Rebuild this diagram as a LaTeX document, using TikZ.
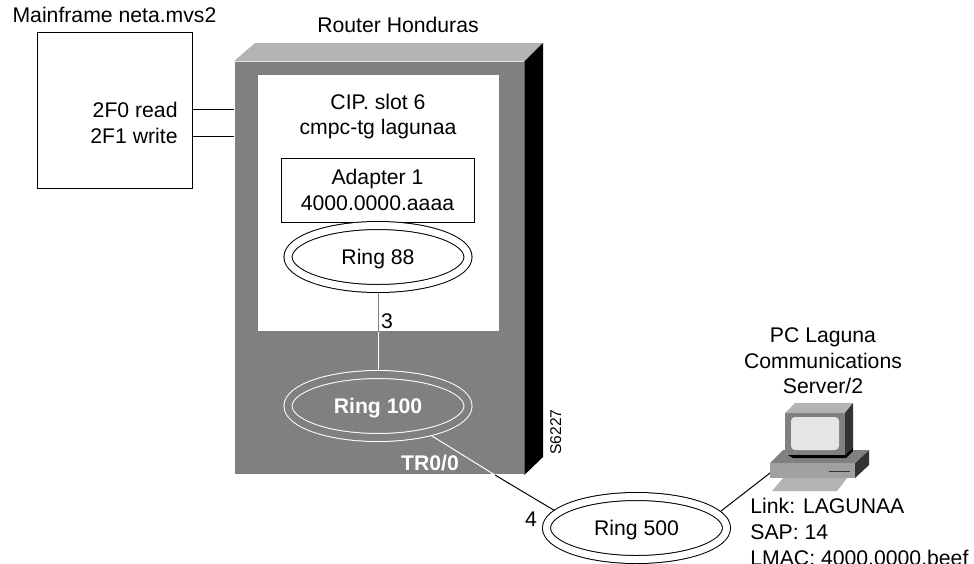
\documentclass[tikz,border=0pt]{standalone}
\usepackage{fontspec}
\setmainfont{Liberation Sans}
\usetikzlibrary{
  	positioning,
  	shapes,
  	calc
  }
\definecolor{frontgray}{HTML}{808080}
\definecolor{topgray}{HTML}{B3B3B3}
\definecolor{sidegray}{HTML}{333333}
\definecolor{basegray}{HTML}{A0A0A0}
\tikzstyle{txt}=[inner sep=0pt,anchor=base,font=\fontsize{10.6}{12.75}\selectfont,align=center]
\tikzstyle{ring}=[ellipse,draw,double,double distance=3.5pt,line width=.5pt,inner sep=0pt,outer sep=2pt,minimum width=90pt,minimum height=31.5pt,text depth=0pt,font=\fontsize{10.6}{12.75}\selectfont]
\tikzstyle{box}=[rectangle,inner sep=0pt,line width=.5pt]

\begin{document}
\begin{tikzpicture}[x=.5pt,y=-.5pt]
\useasboundingbox (0,0) rectangle (974,563);
\node [box,draw,minimum width=77.75pt,minimum height=78pt] (mainframe) at (114.75,110) {};
\node [txt] (mflabel) at (114.5,22) {Mainframe neta.mvs2};
\node [txt,anchor=base east] (readlabel) at (178,117) {2F0 read};
\node [txt,anchor=base east] (writelabel) at (178,143) {2F1 write};
\node [box,fill=frontgray,draw=white,line width=.3pt,minimum width=145pt,minimum height=206.5pt] (router) at (379,268.25) {};
\fill [topgray] (router.north west) -- (255,43) -- (543,43) -- (router.north east) -- cycle;
\fill [black] (router.north east) -- (543,43) -- (543,457) -- (router.south east) -- cycle;
\node [box,fill=white,minimum width=120.5pt,minimum height=128pt] (slot) at (378.5,203) {};
\coordinate (readport) at (192.5,109);
\coordinate (writeport) at (192.5,136);
\draw [line width=.5pt] (readport) -- (readport -| router.west);
\draw [line width=.5pt] (writeport) -- (writeport -| router.west);
\node [txt] (routerlabel) at (398,32) {Router Honduras};
\node [txt] (ciplabel) at (378,109) {CIP. slot 6};
\node [txt] (tglabel) at (378,134) {cmpc-tg lagunaa};
\node [box,draw,fill=white,minimum width=96.5pt,minimum height=32pt,font=\fontsize{10.6}{12.75}\selectfont,align=center] (adapter) at (377.5,190) {Adapter 1\\4000.0000.aaaa};
\node [ring] (r88) at (378,257) {Ring 88};
\node [ring,draw=white,double=frontgray,text=white,font=\fontsize{10.6}{12.75}\selectfont\bfseries] (r100) at (378,406) {Ring 100};
\node [ring] (r500) at (636.5,528) {Ring 500};
\coordinate (slotedge) at (r88 |- slot.south);
\coordinate (routeredge) at (495,475);
\draw [line width=.5pt,frontgray] (r88) -- (slotedge);
\draw [line width=.5pt,white] (slotedge) -- (r100);
\draw [line width=.5pt,white] (r100.-29.6) -- (routeredge);
\draw [line width=.5pt] (routeredge) -- (r500.168.5);
\node [txt] (link3) at (387,328) {3};
\node [txt] (link4) at (531,526) {4};
\node [txt,text=white,font=\fontsize{10.6}{12.75}\selectfont\bfseries] (tr) at (430,470) {TR0/0};
\node [txt,rotate=90,anchor=base,font=\fontsize{7.8}{9}\selectfont] (fig) at (561,432) {S6227};
\fill [sidegray] (855,463) -- (869,450) -- (869,465) -- (855,478) -- cycle;
\fill [frontgray] (770,463) -- (783,450) -- (869,450) -- (855,463) -- cycle;
\fill [basegray] (770,463) rectangle (855,478);
\draw [sidegray,line width=.5pt] (829,471) -- (850,471);
\fill [topgray] (772,491) -- (783,478) -- (847,478) -- (837,491) -- cycle;
\fill [black] (788,455) -- (845,455) -- (853,447) -- (853,451) -- (846,458) -- (793,458) -- cycle;
\fill [topgray] (785,413) -- (795,403) -- (853,403) -- (845,413) -- cycle;
\fill [sidegray] (845,413) -- (853,403) -- (853,447) -- (845,455) -- cycle;
\fill [frontgray] (785,413) rectangle (845,455);
\fill [rounded corners=2pt,black!10] (791,417) rectangle (839,450);
\coordinate (pcport) at (770,473);
\draw [line width=.5pt] (r500.11.6) -- (pcport);
\node [txt] (pclabel) at (823,342) {PC Laguna};
\node [txt] (commlabel) at (823,368) {Communications};
\node [txt] (serverlabel) at (823,393) {Server/2};
\node [txt,anchor=base west] (linklabel) at (750,513) {Link: LAGUNAA};
\node [txt,anchor=base west] (saplabel) at (750,539) {SAP: 14};
\node [txt,anchor=base west] (maclabel) at (750,565) {LMAC: 4000.0000.beef};
\end{tikzpicture}
\end{document}
